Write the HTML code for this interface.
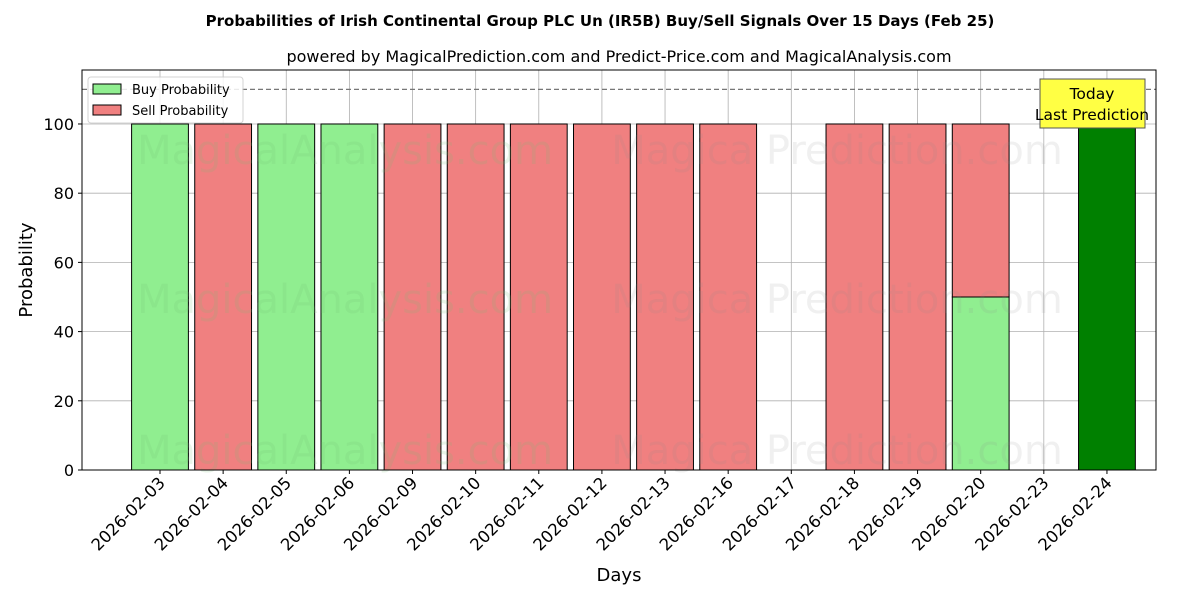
<!DOCTYPE html>
<html><head><meta charset="utf-8"><style>
body{margin:0;background:#fff;font-family:"DejaVu Sans","Liberation Sans",sans-serif}
svg text{font-family:"DejaVu Sans","Liberation Sans",sans-serif}
</style></head><body>
<svg id="c" width="1200" height="600" xmlns="http://www.w3.org/2000/svg"></svg>
<script>
const categories=["2026-02-03","2026-02-04","2026-02-05","2026-02-06","2026-02-09","2026-02-10","2026-02-11","2026-02-12","2026-02-13","2026-02-16","2026-02-17","2026-02-18","2026-02-19","2026-02-20","2026-02-23","2026-02-24"];
const buyValues=[100,0,100,100,0,0,0,0,0,0,0,0,0,50,0,100];
const sellValues=[0,100,0,0,100,100,100,100,100,100,0,100,100,50,0,0];
const yTicks=[0,20,40,60,80,100];
const todayIndex=15;
const L=82,R=1156,T=70,B=470,yMax=115.6;
const x0=160,step=63.13,bw=56.8;
const xs=i=>x0+i*step;
const ys=v=>B-v/yMax*(B-T);
const svg=document.getElementById('c');
const NS="http://www.w3.org/2000/svg";
function mk(tag,attrs,text){const e=document.createElementNS(NS,tag);for(const k in attrs)e.setAttribute(k,attrs[k]);if(text!==undefined)e.textContent=text;svg.appendChild(e);return e;}
let e;
e=mk('text',{x:600,y:26,'text-anchor':'middle','font-size':15,'font-weight':'bold'},'Probabilities of Irish Continental Group PLC Un (IR5B) Buy/Sell Signals Over 15 Days (Feb 25)');


e=mk('text',{x:619,y:62,'text-anchor':'middle','font-size':16},'powered by MagicalPrediction.com and Predict-Price.com and MagicalAnalysis.com');


yTicks.forEach(v=>{e=mk('line',{x1:L,x2:R,y1:ys(v),y2:ys(v),stroke:'#b0b0b0','stroke-width':0.8});


e=mk('text',{x:L-8,y:ys(v)+6,'text-anchor':'end','font-size':16},v);


mk('line',{x1:L-4,x2:L,y1:ys(v),y2:ys(v),stroke:'#000'});});
categories.forEach((c,i)=>{e=mk('line',{x1:xs(i),x2:xs(i),y1:T,y2:B,stroke:'#b0b0b0','stroke-width':0.8});

});
categories.forEach((c,i)=>{
 const bx=xs(i)-bw/2;
 if(buyValues[i]>0){e=mk('rect',{x:bx,y:ys(buyValues[i]),width:bw,height:B-ys(buyValues[i]),fill:i===todayIndex?'#008000':'#90ee90',stroke:'#000','stroke-width':1});
 
 }
 if(sellValues[i]>0){e=mk('rect',{x:bx,y:ys(buyValues[i]+sellValues[i]),width:bw,height:ys(buyValues[i])-ys(buyValues[i]+sellValues[i]),fill:'#f08080',stroke:'#000','stroke-width':1});
 
 }
 mk('line',{x1:xs(i),x2:xs(i),y1:B,y2:B+4,stroke:'#000'});
 e=mk('text',{transform:`translate(${xs(i)+6},${B+14}) rotate(-45)`,'text-anchor':'end','font-size':16.5},c);
 
 
});
[[345,150],[837,150],[345,299],[837,299],[345,450],[837,450]].forEach((p,i)=>{e=mk('text',{x:p[0],y:p[1]+14,'text-anchor':'middle','font-size':40,fill:i%2?'rgba(140,140,140,0.13)':'rgba(120,190,120,0.17)'},i%2?'Magica Prediction.com':'MagicalAnalysis.com');

});
e=mk('line',{x1:L,x2:R,y1:ys(110),y2:ys(110),stroke:'#777','stroke-width':1.2,'stroke-dasharray':'5,3'});


mk('rect',{x:L,y:T,width:R-L,height:B-T,fill:'none',stroke:'#000','stroke-width':1});
e=mk('rect',{x:1040,y:79,width:105,height:49,fill:'#ffff44',stroke:'#555'});


mk('text',{x:1092,y:99,'text-anchor':'middle','font-size':15.5},'Today');
mk('text',{x:1092,y:120,'text-anchor':'middle','font-size':15.5},'Last Prediction');
e=mk('rect',{x:88,y:77,width:155,height:46,fill:'#fff',stroke:'#ccc',rx:3,opacity:0.85});


e=mk('rect',{x:93,y:84,width:28,height:10,fill:'#90ee90',stroke:'#000'});


mk('text',{x:132,y:94,'font-size':13},'Buy Probability');
e=mk('rect',{x:93,y:105,width:28,height:10,fill:'#f08080',stroke:'#000'});


mk('text',{x:132,y:115,'font-size':13},'Sell Probability');
e=mk('text',{x:619,y:581,'text-anchor':'middle','font-size':18},'Days');


e=mk('text',{transform:'translate(32,270) rotate(-90)','text-anchor':'middle','font-size':18},'Probability');


</script>
</body></html>
